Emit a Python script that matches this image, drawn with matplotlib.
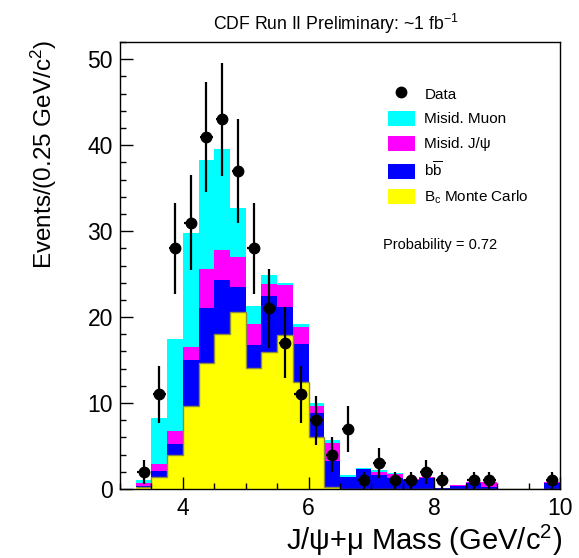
"""
Bc -> J/psi mu candidate mass, stacked fit components vs data
"""

import numpy as np
import matplotlib
matplotlib.use("Agg")
import matplotlib.pyplot as plt
from matplotlib.patches import Patch
from matplotlib.lines import Line2D
from matplotlib.ticker import MultipleLocator

plt.rcParams["font.family"] = ["Liberation Sans", "DejaVu Sans"]
plt.rcParams["mathtext.fontset"] = "custom"
plt.rcParams["mathtext.rm"] = "Liberation Sans"
plt.rcParams["mathtext.it"] = "Liberation Sans"

# ---------------- DATA ----------------
bin_edges = np.arange(3.25, 10.0 + 0.001, 0.25)

# stacked components, bottom to top (cumulative heights)
bc_mc = [0.2, 1.45, 4.0, 9.7, 14.7, 18.0, 20.6, 14.1, 15.9, 17.9, 12.5, 6.0, 0.2,
         0, 0, 0, 0, 0, 0, 0, 0, 0, 0, 0, 0, 0, 0]
bb_cum = [0.3, 2.05, 5.2, 15.0, 21.1, 24.3, 23.5, 16.7, 22.4, 21.2, 16.9, 8.8, 3.2,
          1.4, 2.3, 1.6, 1.3, 1.1, 1.3, 0.1, 0.4, 0.74, 0.25, 0, 0, 0, 0.74]
misid_jpsi_cum = [0.65, 2.95, 6.7, 16.5, 25.6, 27.8, 27.0, 19.2, 23.9, 23.7, 18.9, 9.7, 5.3,
                  1.45, 2.35, 2.0, 1.7, 1.15, 1.35, 0.1, 0.45, 0.78, 0.8, 0, 0, 0, 0.78]
misid_muon_cum = [1.0, 8.3, 17.4, 29.8, 38.3, 39.6, 32.7, 21.3, 24.9, 24.0, 19.2, 10.0, 5.7,
                  1.6, 2.45, 2.2, 1.9, 1.2, 1.45, 0.15, 0.5, 0.8, 0.85, 0, 0, 0, 0.8]

data_counts = [2, 11, 28, 31, 41, 43, 37, 28, 21, 17, 11, 8, 4,
               7, 1, 3, 1, 1, 2, 1, 0, 1, 1, 0, 0, 0, 1]

labels = ["Data", "Misid. Muon", "Misid. J/\u03c8", r"$\mathrm{b\overline{b}}$",
          r"B$_\mathrm{c}$ Monte Carlo"]
colors = {"muon": "#00ffff", "jpsi": "#ff00ff", "bb": "#0000ff", "bc": "#ffff00"}


def main():
    fig = plt.figure(figsize=(5.79, 5.58), dpi=100)
    ax = fig.add_axes([120 / 579, 1 - 489 / 558, 440 / 579, 447 / 558])

    left = bin_edges[:-1]
    width = np.diff(bin_edges)
    bc = np.array(bc_mc)
    bb = np.array(bb_cum)
    jp = np.array(misid_jpsi_cum)
    mu = np.array(misid_muon_cum)

    # draw cumulative layers back to front
    ax.bar(left, mu, width=width, align="edge", color=colors["muon"], linewidth=0)
    ax.bar(left, jp, width=width, align="edge", color=colors["jpsi"], linewidth=0)
    ax.bar(left, bb, width=width, align="edge", color=colors["bb"], linewidth=0)
    ax.bar(left, bc, width=width, align="edge", color=colors["bc"], linewidth=0)
    ax.stairs(bc, bin_edges, color="#8c8c3c", linewidth=1.0, baseline=None)

    centers = left + width / 2
    counts = np.array(data_counts, dtype=float)
    sel = counts > 0
    ax.errorbar(centers[sel], counts[sel], yerr=np.sqrt(counts[sel]), xerr=0.1,
                fmt="o", color="black", markersize=7.5, elinewidth=1.6, capsize=0)

    ax.set_xlim(3.0, 10.0)
    ax.set_ylim(0, 52)
    ax.xaxis.set_major_locator(MultipleLocator(2))
    ax.xaxis.set_minor_locator(MultipleLocator(0.5))
    ax.yaxis.set_major_locator(MultipleLocator(10))
    ax.yaxis.set_minor_locator(MultipleLocator(2))
    ax.tick_params(which="both", direction="in", top=False, right=False,
                   labelsize=16.5, width=1.0)
    ax.tick_params(axis="x", which="major", length=9, pad=6)
    ax.tick_params(axis="x", which="minor", length=4)
    ax.tick_params(axis="y", which="major", length=9, pad=5)
    ax.tick_params(axis="y", which="minor", length=4.5)
    for sp in ax.spines.values():
        sp.set_linewidth(1.0)

    handles = [
        Line2D([], [], marker="o", color="black", linestyle="none", markersize=7.5),
        Patch(facecolor=colors["muon"]),
        Patch(facecolor=colors["jpsi"]),
        Patch(facecolor=colors["bb"]),
        Patch(facecolor=colors["bc"]),
    ]
    ax.legend(handles, labels, loc="upper left", bbox_to_anchor=(0.609, 0.902),
              frameon=False, fontsize=11, handlelength=1.77, handleheight=1.15,
              labelspacing=0.6, handletextpad=0.62, borderaxespad=0, borderpad=0)

    ax.text(0.598, 0.546, "Probability = 0.72", transform=ax.transAxes,
            fontsize=10.5, va="center", ha="left")

    fig.text(213 / 579, 1 - 30 / 558, "CDF Run II Preliminary: ~1 fb$^{-1}$",
             fontsize=12.7, ha="left", va="baseline")
    fig.text(562 / 579, 1 - 550 / 558, "J/\u03c8+\u03bc Mass (GeV/c$^{2}$)",
             fontsize=21, ha="right", va="baseline")
    fig.text(0.075, 1 - 40 / 558, "Events/(0.25 GeV/c$^{2}$)",
             fontsize=17.5, rotation=90, ha="center", va="top")

    fig.savefig("out.png", dpi=100)
    plt.close("all")


if __name__ == "__main__":
    main()
